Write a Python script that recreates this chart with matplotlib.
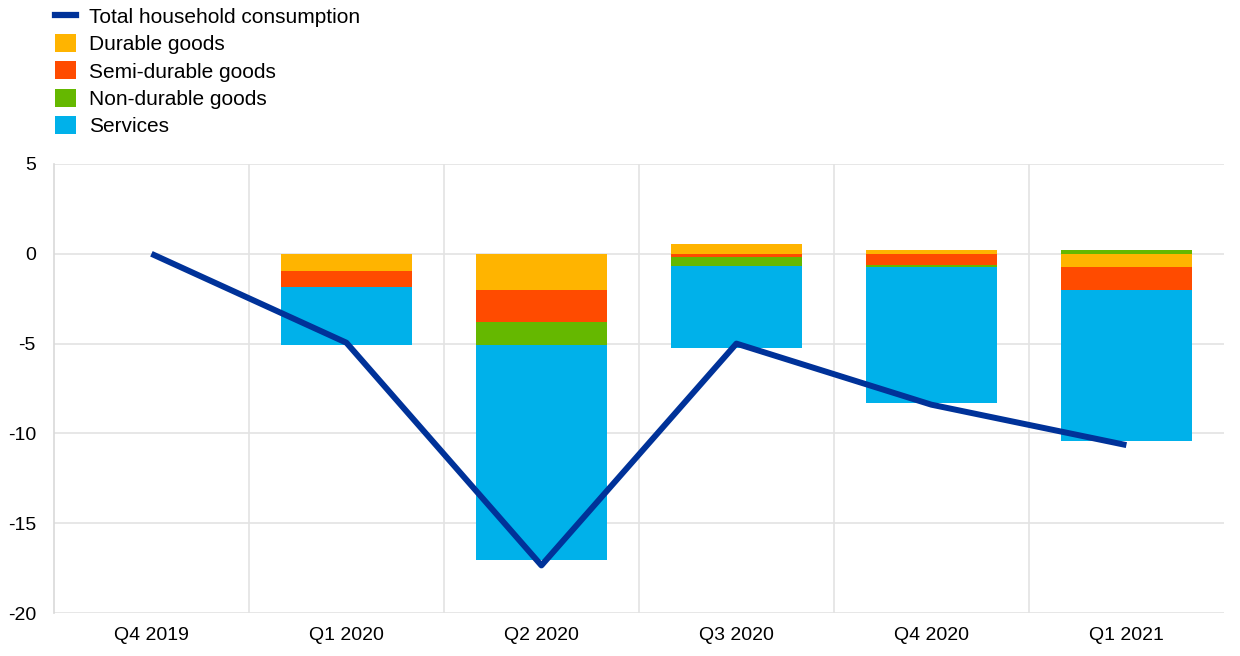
import numpy as np
import matplotlib.pyplot as plt
from matplotlib.patches import Patch
from matplotlib.lines import Line2D

plt.rcParams['font.family'] = ['Liberation Sans', 'DejaVu Sans']
plt.rcParams['axes.unicode_minus'] = False

quarters = ["Q4 2019", "Q1 2020", "Q2 2020", "Q3 2020", "Q4 2020", "Q1 2021"]
total = [0.0, -4.95, -17.35, -5.0, -8.4, -10.65]
durable = [0.0, -0.93, -2.04, 0.56, 0.22, -0.76]
semi_durable = [0.0, -0.94, -1.73, -0.17, -0.61, -1.28]
non_durable = [0.0, 0.0, -1.30, -0.51, -0.15, 0.22]
services = [0.0, -3.21, -11.97, -4.55, -7.54, -8.36]

series = [
    ("Durable goods", durable, "#FFB400"),
    ("Semi-durable goods", semi_durable, "#FF4B00"),
    ("Non-durable goods", non_durable, "#65B800"),
    ("Services", services, "#00B1EA"),
]

fig = plt.figure(figsize=(12.4, 6.56), dpi=100)
ax = fig.add_axes([0.0435, 0.0655, 0.9435, 0.6845])

x = np.arange(len(quarters))
width = 0.67
pos_base = np.zeros(len(quarters))
neg_base = np.zeros(len(quarters))
for name, vals, col in series:
    vals = np.array(vals)
    base = np.where(vals >= 0, pos_base, neg_base)
    ax.bar(x, vals, width, bottom=base, color=col, zorder=2, linewidth=0)
    pos_base = pos_base + np.where(vals >= 0, vals, 0)
    neg_base = neg_base + np.where(vals < 0, vals, 0)

ax.plot(x, total, color="#003299", linewidth=4.3, zorder=3, solid_capstyle="butt")

ax.set_xlim(-0.5, len(quarters) - 0.5)
ax.set_ylim(-20, 5)
ax.set_yticks(np.arange(-20, 6, 5))
ax.set_xticks(x)
ax.set_xticklabels(quarters)
ax.set_xticks(np.arange(0.5, len(quarters) - 0.5, 1), minor=True)
ax.grid(axis="y", which="major", color="#E3E3E3", linewidth=1.2, zorder=0)
ax.grid(axis="x", which="minor", color="#E3E3E3", linewidth=1.2, zorder=0)
ax.tick_params(axis="both", which="both", length=0, labelsize=14, pad=10)
ax.tick_params(axis="y", pad=13)
for s in ["top", "right", "bottom"]:
    ax.spines[s].set_visible(False)
ax.spines["left"].set_color("#D9D9D9")
ax.spines["left"].set_linewidth(1.2)

handles = [Line2D([0], [0], color="#003299", linewidth=4.5)]
handles += [Patch(facecolor=c, edgecolor="none") for _, _, c in series]
labels = ["Total household consumption"] + [n for n, _, _ in series]
fig.legend(handles, labels, loc="upper left", bbox_to_anchor=(0.029, 1.018),
           frameon=False, fontsize=15, handlelength=1.0, handleheight=0.95,
           handletextpad=0.65, labelspacing=0.34)

fig.savefig("out.png", dpi=100)
